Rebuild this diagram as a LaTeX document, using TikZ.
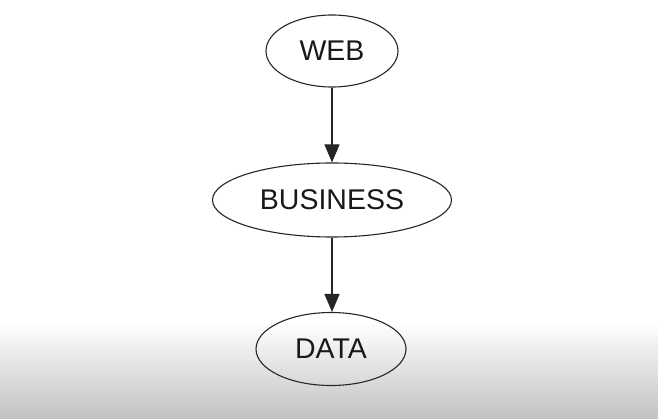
\documentclass[tikz,border=0pt]{standalone}
\usepackage{fontspec}
\setmainfont{Liberation Sans}
\usetikzlibrary{shapes.geometric,arrows.meta}
\begin{document}
\begin{tikzpicture}[x=1pt,y=-1pt,
  layer/.style={ellipse,draw=black!85,line width=1.1pt,inner sep=0pt,
    font=\fontsize{28.5}{31}\selectfont,text=black!90},
  link/.style={draw=black!85,line width=1.1pt,-{Triangle[length=18pt,width=15pt]}}]
\useasboundingbox (0,0) rectangle (658,419);
\fill[white] (0,0) rectangle (658,419);
\shade[top color=white,bottom color=black!24] (0,322) rectangle (658,419);
\node[layer,minimum width=132pt,minimum height=72pt] (web) at (332,51) {WEB};
\node[layer,minimum width=239pt,minimum height=74pt] (bus) at (332,200) {BUSINESS};
\node[layer,minimum width=150pt,minimum height=73pt] (data) at (331,349) {DATA};
\draw[link] (web) -- (bus);
\draw[link] (bus.south) -- (bus.south |- data.north);
\end{tikzpicture}
\end{document}
